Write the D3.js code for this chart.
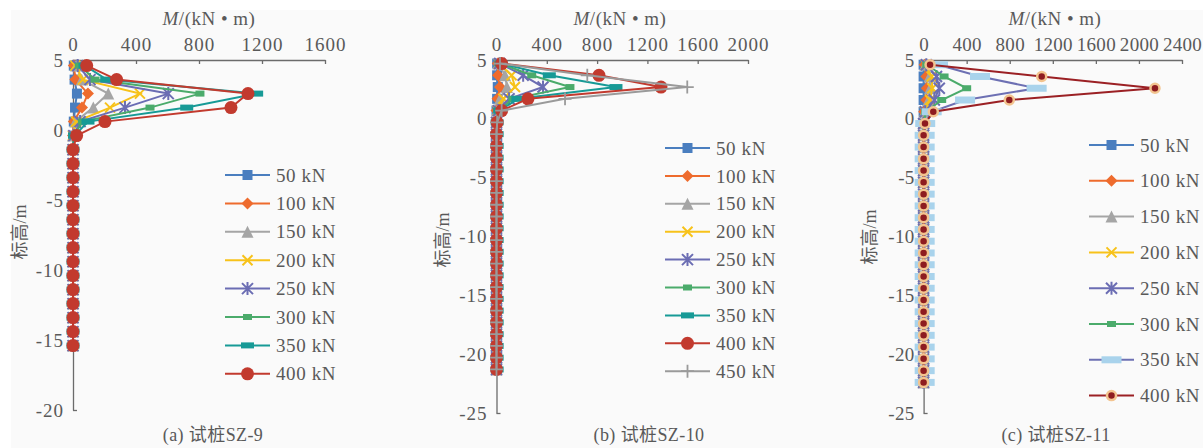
<!DOCTYPE html>
<html>
<head>
<meta charset="utf-8">
<script src="https://cdn.jsdelivr.net/npm/d3@7"></script>
<style>
  body { margin: 0; background: #fff; }
  text { font-family: "Liberation Serif", "Times New Roman", serif; fill: #595959; }
  .cjk { font-family: "Liberation Serif", "Noto Sans CJK SC", serif; }
</style>
</head>
<body>
<div class="js-board"></div>
<script>
// elevations (m) of the measuring points
var elevA = [4.6, 3.6, 2.6, 1.6, 0.6, -0.4, -1.4, -2.4, -3.4, -4.4, -5.4, -6.4, -7.4, -8.4, -9.4, -10.4, -11.4, -12.4, -13.4, -14.4, -15.4];
var elevB = [4.7, 3.7, 2.7, 1.7, 0.7, -0.3, -1.3, -2.3, -3.3, -4.3, -5.3, -6.3, -7.3, -8.3, -9.3, -10.3, -11.3, -12.3, -13.3, -14.3, -15.3, -16.3, -17.3, -18.3, -19.3, -20.3, -21.3];
var elevC = [4.6, 3.6, 2.6, 1.6, 0.6, -0.4, -1.4, -2.4, -3.4, -4.4, -5.4, -6.4, -7.4, -8.4, -9.4, -10.4, -11.4, -12.4, -13.4, -14.4, -15.4, -16.4, -17.4, -18.4, -19.4, -20.4, -21.4, -22.4];

var loadsA = [50, 100, 150, 200, 250, 300, 350, 400];
var loadsB = [50, 100, 150, 200, 250, 300, 350, 400, 450];
var loadsC = [50, 100, 150, 200, 250, 300, 350, 400];

// bending moment M (kN·m), one row per load
var momentA = [
  [5, 10, 25, 13, 5, 0, 0, 0, 0, 0, 0, 0, 0, 0, 0, 0, 0, 0, 0, 0, 0],
  [5, 15, 95, 57, 5, 0, 0, 0, 0, 0, 0, 0, 0, 0, 0, 0, 0, 0, 0, 0, 0],
  [20, 55, 224, 129, 15, 0, 0, 0, 0, 0, 0, 0, 0, 0, 0, 0, 0, 0, 0, 0, 0],
  [15, 63, 425, 235, 20, 0, 0, 0, 0, 0, 0, 0, 0, 0, 0, 0, 0, 0, 0, 0, 0],
  [30, 108, 605, 330, 45, 5, 0, 0, 0, 0, 0, 0, 0, 0, 0, 0, 0, 0, 0, 0, 0],
  [40, 140, 806, 489, 60, 5, 0, 0, 0, 0, 0, 0, 0, 0, 0, 0, 0, 0, 0, 0, 0],
  [76, 214, 1166, 722, 95, 10, 0, 0, 0, 0, 0, 0, 0, 0, 0, 0, 0, 0, 0, 0, 0],
  [87, 277, 1111, 1003, 203, 23, 0, 0, 0, 0, 0, 0, 0, 0, 0, 0, 0, 0, 0, 0, 0]
];
var momentB = [
  [5, 5, 10, 5, 0, 0, 0, 0, 0, 0, 0, 0, 0, 0, 0, 0, 0, 0, 0, 0, 0, 0, 0, 0, 0, 0, 0],
  [10, 12, 28, 8, 0, 0, 0, 0, 0, 0, 0, 0, 0, 0, 0, 0, 0, 0, 0, 0, 0, 0, 0, 0, 0, 0, 0],
  [15, 68, 83, 28, 5, 0, 0, 0, 0, 0, 0, 0, 0, 0, 0, 0, 0, 0, 0, 0, 0, 0, 0, 0, 0, 0, 0],
  [20, 120, 147, 55, 10, 0, 0, 0, 0, 0, 0, 0, 0, 0, 0, 0, 0, 0, 0, 0, 0, 0, 0, 0, 0, 0, 0],
  [25, 212, 370, 100, 15, 0, 0, 0, 0, 0, 0, 0, 0, 0, 0, 0, 0, 0, 0, 0, 0, 0, 0, 0, 0, 0, 0],
  [30, 280, 584, 130, 20, 0, 0, 0, 0, 0, 0, 0, 0, 0, 0, 0, 0, 0, 0, 0, 0, 0, 0, 0, 0, 0, 0],
  [35, 420, 950, 170, 25, 5, 5, 5, 5, 5, 5, 5, 5, 5, 5, 5, 5, 5, 5, 5, 5, 5, 5, 5, 5, 5, 5],
  [41, 815, 1308, 250, 41, 5, 0, 0, 0, 0, 0, 0, 0, 0, 0, 0, 0, 0, 0, 0, 0, 0, 0, 0, 0, 0, 0],
  [28, 722, 1517, 545, 41, 5, 0, 0, 0, 0, 0, 0, 0, 0, 0, 0, 0, 0, 0, 0, 0, 0, 0, 0, 0, 0, 0]
];
var momentC = [
  [0, 0, 0, 0, 0, 0, 0, 0, 0, 0, 0, 0, 0, 0, 0, 0, 0, 0, 0, 0, 0, 0, 0, 0, 0, 0, 0, 0],
  [10, 25, 30, 25, 5, 0, 0, 0, 0, 0, 0, 0, 0, 0, 0, 0, 0, 0, 0, 0, 0, 0, 0, 0, 0, 0, 0, 0],
  [15, 55, 60, 45, 10, 0, 0, 0, 0, 0, 0, 0, 0, 0, 0, 0, 0, 0, 0, 0, 0, 0, 0, 0, 0, 0, 0, 0],
  [20, 75, 80, 60, 12, 0, 0, 0, 0, 0, 0, 0, 0, 0, 0, 0, 0, 0, 0, 0, 0, 0, 0, 0, 0, 0, 0, 0],
  [25, 120, 146, 100, 15, 0, 0, 0, 0, 0, 0, 0, 0, 0, 0, 0, 0, 0, 0, 0, 0, 0, 0, 0, 0, 0, 0, 0],
  [30, 190, 400, 168, 20, 0, 0, 0, 0, 0, 0, 0, 0, 0, 0, 0, 0, 0, 0, 0, 0, 0, 0, 0, 0, 0, 0, 0],
  [134, 524, 1050, 385, 75, 15, 10, 10, 10, 10, 10, 10, 10, 10, 10, 10, 10, 10, 10, 10, 10, 10, 10, 10, 10, 10, 10, 10],
  [60, 1097, 2149, 796, 90, 13, 0, 0, 0, 0, 0, 0, 0, 0, 0, 0, 0, 0, 0, 0, 0, 0, 0, 0, 0, 0, 0, 0]
];

var xTicksA = [0, 400, 800, 1200, 1600];
var xTicksB = [0, 400, 800, 1200, 1600, 2000];
var xTicksC = [0, 400, 800, 1200, 1600, 2000, 2400];
var yTicksA = [5, 0, -5, -10, -15, -20];
var yTicksB = [5, 0, -5, -10, -15, -20, -25];
var yTicksC = [5, 0, -5, -10, -15, -20, -25];

var captions = ['(a) 试桩SZ-9', '(b) 试桩SZ-10', '(c) 试桩SZ-11'];

// marker styles
var baseStyle = {
  50:  {color: '#4a7ebf', kind: 'square', size: 10},
  100: {color: '#ee6b2d', kind: 'diamond', size: 12},
  150: {color: '#a5a5a5', kind: 'triangle', size: 12},
  200: {color: '#f7c21a', kind: 'x', size: 10},
  250: {color: '#6b6db3', kind: 'star', size: 11},
  300: {color: '#4bab6b', kind: 'rect', w: 9, h: 6},
  350: {color: '#179a96', kind: 'rect', w: 13, h: 6},
  400: {color: '#c23a2e', kind: 'circle', r: 6.5},
  450: {color: '#9a9a9a', kind: 'plus', size: 13}
};
var styleC = Object.assign({}, baseStyle, {
  350: {color: '#6d70b3', kind: 'rect', w: 20, h: 7, fill: '#a9d3ec'},
  400: {color: '#9b2024', kind: 'circle', r: 4.5, fill: '#8e1c20', ring: '#f3c48f'}
});

var svg = d3.select('.js-board').append('svg')
  .attr('width', 1203).attr('height', 448);

svg.append('rect').attr('x', 11).attr('y', 10).attr('width', 1192).attr('height', 438)
  .attr('fill', '#fafafa');

function marker(g, st, x, y) {
  var c = st.color, s = st.size;
  if (st.kind === 'square') {
    g.append('rect').attr('x', x - s / 2).attr('y', y - s / 2).attr('width', s).attr('height', s).attr('fill', c);
  } else if (st.kind === 'diamond') {
    g.append('path').attr('d', 'M' + x + ',' + (y - s / 2) + 'L' + (x + s / 2) + ',' + y + 'L' + x + ',' + (y + s / 2) + 'L' + (x - s / 2) + ',' + y + 'Z').attr('fill', c);
  } else if (st.kind === 'triangle') {
    g.append('path').attr('d', 'M' + x + ',' + (y - s / 2) + 'L' + (x + s / 2) + ',' + (y + s / 2) + 'L' + (x - s / 2) + ',' + (y + s / 2) + 'Z').attr('fill', c);
  } else if (st.kind === 'x') {
    var h = s / 2;
    g.append('path').attr('d', 'M' + (x - h) + ',' + (y - h) + 'L' + (x + h) + ',' + (y + h) + 'M' + (x - h) + ',' + (y + h) + 'L' + (x + h) + ',' + (y - h))
      .attr('stroke', c).attr('stroke-width', 2).attr('fill', 'none');
  } else if (st.kind === 'star') {
    var h2 = s / 2;
    g.append('path').attr('d', 'M' + (x - h2) + ',' + (y - h2) + 'L' + (x + h2) + ',' + (y + h2) + 'M' + (x - h2) + ',' + (y + h2) + 'L' + (x + h2) + ',' + (y - h2) + 'M' + x + ',' + (y - h2 - 1) + 'L' + x + ',' + (y + h2 + 1))
      .attr('stroke', c).attr('stroke-width', 2).attr('fill', 'none');
  } else if (st.kind === 'rect') {
    g.append('rect').attr('x', x - st.w / 2).attr('y', y - st.h / 2).attr('width', st.w).attr('height', st.h).attr('fill', st.fill || c);
  } else if (st.kind === 'circle') {
    g.append('circle').attr('cx', x).attr('cy', y).attr('r', st.r).attr('fill', st.fill || c)
      .attr('stroke', st.ring || 'none').attr('stroke-width', st.ring ? 2.5 : 0);
  } else if (st.kind === 'plus') {
    g.append('path').attr('d', 'M' + (x - s / 2) + ',' + y + 'L' + (x + s / 2) + ',' + y + 'M' + x + ',' + (y - s / 2) + 'L' + x + ',' + (y + s / 2))
      .attr('stroke', c).attr('stroke-width', 1.8).attr('fill', 'none');
  }
}

function panel(p) {
  var x = d3.scaleLinear().domain([0, p.xTicks[p.xTicks.length - 1]]).range([p.x0, p.x1]);
  var y = d3.scaleLinear().domain([5, p.yTicks[p.yTicks.length - 1]]).range([60, p.y1]);
  var g = svg.append('g');
  var fmt = function(d) { return String(d); };

  var xAxis = g.append('g').attr('transform', 'translate(0,60)')
    .call(d3.axisTop(x).tickValues(p.xTicks).tickFormat(fmt).tickSize(-4).tickPadding(9).tickSizeOuter(0));
  var yAxis = g.append('g').attr('transform', 'translate(' + p.x0 + ',0)')
    .call(d3.axisLeft(y).tickValues(p.yTicks).tickFormat(fmt).tickSize(-4).tickPadding(9).tickSizeOuter(0));
  [xAxis, yAxis].forEach(function(a) {
    a.select('.domain').attr('stroke', '#6b6b6b').attr('stroke-width', 1.3);
    a.selectAll('.tick line').attr('stroke', '#6b6b6b').attr('stroke-width', 1.3);
    a.selectAll('text').attr('fill', '#595959').style('font-size', '19px').style('letter-spacing', p.tickSpacing)
      .style('font-family', '"Liberation Serif", serif');
  });

  p.loads.forEach(function(load, i) {
    var st = p.style[load];
    var pts = p.elev.map(function(e, j) { return [x(p.moment[i][j]), y(e)]; });
    g.append('path')
      .attr('d', d3.line()(pts))
      .attr('fill', 'none').attr('stroke', st.color).attr('stroke-width', 2);
    var mg = g.append('g');
    pts.forEach(function(pt) { marker(mg, st, pt[0], pt[1]); });

    // legend entry
    var ly = p.legY + i * p.legDy;
    g.append('line').attr('x1', p.legX).attr('x2', p.legX + 45).attr('y1', ly).attr('y2', ly)
      .attr('stroke', st.color).attr('stroke-width', 2);
    marker(g, st, p.legX + 22.5, ly);
    g.append('text').attr('x', p.legX + 51).attr('y', ly).attr('dy', '0.35em')
      .style('font-size', '19px').style('letter-spacing', '0.6px').text(load + ' kN');
  });

  var title = g.append('text').attr('x', p.titleX).attr('y', 25).attr('text-anchor', 'middle')
    .style('font-size', '19px').style('letter-spacing', '0.5px');
  title.append('tspan').style('font-style', 'italic').text('M');
  title.append('tspan').text('/(kN • m)');

  g.append('text').attr('class', 'cjk')
    .attr('transform', 'translate(' + p.yLabX + ',' + p.yLabY + ') rotate(-90)')
    .attr('text-anchor', 'middle').attr('dy', '0.35em')
    .style('font-size', '18px').text('标高/m');

  g.append('text').attr('class', 'cjk').attr('x', p.capX).attr('y', 441).attr('text-anchor', 'middle')
    .style('font-size', '18px').style('letter-spacing', '0.4px').text(p.caption);
}

panel({x0: 73, x1: 325, y1: 410, xTicks: xTicksA, yTicks: yTicksA, elev: elevA, loads: loadsA,
  moment: momentA, style: baseStyle, legX: 225, legY: 175, legDy: 28.4, tickSpacing: '1px',
  titleX: 209, yLabX: 20, yLabY: 232, capX: 213, caption: captions[0]});
panel({x0: 496.5, x1: 748, y1: 413, xTicks: xTicksB, yTicks: yTicksB, elev: elevB, loads: loadsB,
  moment: momentB, style: baseStyle, legX: 665, legY: 148, legDy: 27.9, tickSpacing: '1px',
  titleX: 620, yLabX: 443, yLabY: 240, capX: 649, caption: captions[1]});
panel({x0: 923.6, x1: 1182, y1: 413, xTicks: xTicksC, yTicks: yTicksC, elev: elevC, loads: loadsC,
  moment: momentC, style: styleC, legX: 1089, legY: 145, legDy: 35.8, tickSpacing: '0.3px',
  titleX: 1055, yLabX: 870, yLabY: 237, capX: 1056, caption: captions[2]});
</script>
</body>
</html>
